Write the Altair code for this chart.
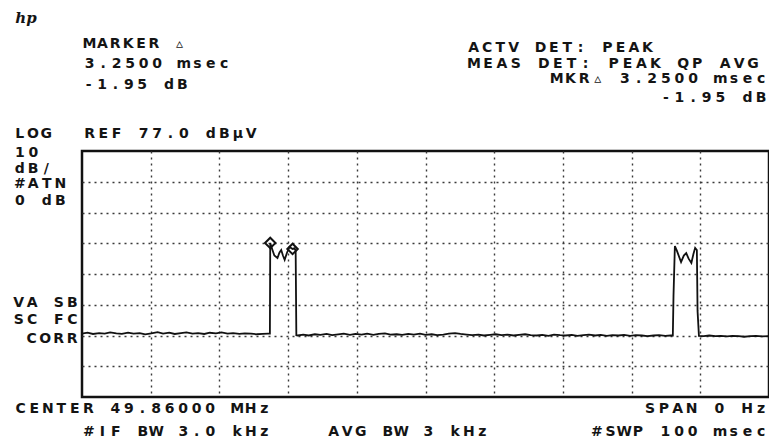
import altair as alt
import pandas as pd

# ---------------- data ----------------
# time axis 0..100 ms (SPAN 0 Hz, SWP 100 ms), level axis REF 77 dBuV, 10 dB/div
time_ms = [
    0.0, 0.8, 1.6, 2.5, 3.3, 4.1, 5.0, 5.8, 6.7, 7.5, 8.4, 9.2, 10.1, 11.0, 11.8,
    12.7, 13.5, 14.4, 15.2, 16.1, 16.9, 17.8, 18.6, 19.5, 20.3, 21.2, 22.0, 22.9,
    23.7, 24.6, 25.4, 26.3, 27.1, 27.35,
    27.4, 27.7, 28.0, 28.45, 28.75, 29.0, 29.25, 29.5, 29.85, 30.2, 30.65, 30.95, 31.1,
    31.2, 31.4, 32.2, 33.0, 33.9, 34.7, 35.6, 36.4, 37.3, 38.1, 39.0, 39.8, 40.7,
    41.5, 42.4, 43.2, 44.1, 44.9, 45.8, 46.6, 47.5, 48.3, 49.2, 50.0, 50.9, 51.7,
    52.6, 53.4, 54.3, 55.1, 56.0, 56.8, 57.7, 58.5, 59.4, 60.2, 61.1, 61.9, 62.8,
    63.6, 64.5, 65.3, 66.2, 67.0, 67.9, 68.7, 69.6, 70.4, 71.3, 72.1, 73.0, 73.8,
    74.7, 75.5, 76.4, 77.2, 78.1, 78.9, 79.8, 80.6, 81.5, 82.3, 83.2, 84.0, 84.9,
    85.7, 86.0,
    86.1, 86.3, 86.6, 87.2, 87.6, 87.95, 88.3, 88.7, 89.0, 89.25, 89.5, 89.6,
    89.8, 90.5, 91.3, 92.2, 93.0, 93.9, 94.7, 95.6, 96.4, 97.3, 98.1, 99.0, 100.0,
]
level_dbuv = [
    17.6, 17.9, 17.5, 17.8, 17.6, 18.0, 17.7, 17.5, 17.9, 17.6, 17.8, 17.4, 17.7, 18.1, 17.6,
    17.9, 17.5, 17.8, 18.0, 17.6, 17.8, 17.5, 17.9, 17.7, 18.0, 17.6, 17.8, 17.5,
    17.7, 17.6, 17.4, 17.5, 17.6, 17.6,
    47.1, 45.0, 43.0, 42.2, 44.0, 44.8, 43.0, 41.6, 44.0, 45.8, 45.15, 45.4, 44.5,
    17.1, 17.0, 17.3, 17.0, 17.4, 17.2, 17.5, 17.1, 17.4, 17.6, 17.2, 17.5, 17.3,
    17.6, 17.2, 17.5, 17.7, 17.3, 17.4, 17.2, 17.5, 17.3, 17.6, 17.2, 17.4, 17.1,
    17.3, 17.6, 17.8, 17.5, 17.3, 17.1, 17.3, 17.0, 17.2, 17.4, 17.1, 17.3, 17.0,
    17.2, 17.4, 17.1, 17.0, 17.2, 16.9, 17.3, 17.1, 17.0, 17.2, 16.9, 17.1, 17.3,
    17.0, 17.2, 16.9, 17.1, 17.0, 17.2, 16.9, 17.1, 17.0, 16.8, 17.0, 17.1, 16.9,
    17.0, 17.0,
    30.0, 46.1, 44.5, 40.9, 43.0, 43.8, 42.0, 40.6, 43.5, 45.5, 44.8, 25.0,
    16.9, 16.8, 17.0, 16.8, 16.9, 16.7, 16.9, 16.8, 16.6, 16.8, 16.9, 16.7, 16.8,
]

marker_time = [27.4, 30.65]
marker_level = [47.1, 45.15]

grid_time = [10, 20, 30, 40, 50, 60, 70, 80, 90]
grid_level = [7, 17, 27, 37, 47, 57, 67]

# screen annotation texts
label_texts = [
    "MARKER \u25b5", "3.2500 msec", "-1.95 dB",
    "ACTV DET: PEAK", "MEAS DET: PEAK QP AVG", "MKR\u25b5 3.2500 msec", "-1.95 dB",
    "LOG", "10", "dB/", "#ATN", "0 dB",
    "REF 77.0 dB\u00b5V",
    "VA SB", "SC FC", "CORR",
    "CENTER 49.86000 MHz", "#IF BW 3.0 kHz", "AVG BW 3 kHz",
    "SPAN 0 Hz", "#SWP 100 msec",
]

# ---------------- layout (page pixels) ----------------
PLOT_X0, PLOT_Y0 = 82, 151
PLOT_W, PLOT_H = 687, 246
# (left edge, right edge, vertical centre) for each text line
label_layout = [
    (83, 186, 43.5), (83, 231, 64), (82, 189, 85),
    (467, 654, 47.5), (467, 760, 64), (550, 768, 79), (659, 768, 97.5),
    (13, 53, 134), (13, 40, 152.5), (13, 53, 168.5), (13, 67, 183.5), (13, 67, 200.5),
    (83, 258, 134),
    (12, 79, 303), (12, 79, 320), (25, 79, 339),
    (14, 271, 409), (82, 271, 432), (327, 489, 432),
    (643, 768, 409), (590, 768, 432),
]

rows = []
for text, (xl, xr, yc) in zip(label_texts, label_layout):
    adv = (xr - xl) / len(text)
    for i, ch in enumerate(text):
        if ch == " ":
            continue
        rows.append({
            "px": xl + adv * (i + 0.5) - PLOT_X0,
            "py": yc - PLOT_Y0,
            "ch": ch,
        })
chars = pd.DataFrame(rows)

trace = pd.DataFrame({"t": time_ms, "lvl": level_dbuv})
markers = pd.DataFrame({"t": marker_time, "lvl": marker_level})

xscale = alt.Scale(domain=[0, 100], nice=False, zero=False)
yscale = alt.Scale(domain=[-3, 77], nice=False, zero=False)

grid_axis_x = alt.Axis(values=grid_time, labels=False, ticks=False, domain=False,
                       grid=True, gridDash=[2, 4], gridColor="#3a3a3a",
                       gridWidth=1.4, title=None)
grid_axis_y = alt.Axis(values=grid_level, labels=False, ticks=False, domain=False,
                       grid=True, gridDash=[2, 4], gridColor="#3a3a3a",
                       gridWidth=1.4, title=None)

line = alt.Chart(trace).mark_line(color="#111111", strokeWidth=1.8, interpolate="linear").encode(
    x=alt.X("t:Q", scale=xscale, axis=grid_axis_x),
    y=alt.Y("lvl:Q", scale=yscale, axis=grid_axis_y),
    order=alt.Order("t:Q"),
)

pts = alt.Chart(markers).mark_point(shape="diamond", filled=False, color="#111111",
                                    size=110, strokeWidth=2, opacity=1).encode(
    x=alt.X("t:Q", scale=xscale),
    y=alt.Y("lvl:Q", scale=yscale),
)

texts = alt.Chart(chars).mark_text(font="DejaVu Sans", fontWeight="bold", fontSize=14,
                                   align="center", baseline="middle", color="#141414").encode(
    x=alt.X("px:Q", scale=None, axis=None),
    y=alt.Y("py:Q", scale=None, axis=None),
    text="ch:N",
)

logo = alt.Chart(pd.DataFrame({"s": ["hp"]})).mark_text(
    font="DejaVu Serif", fontStyle="italic", fontWeight="bold", fontSize=15,
    align="center", baseline="middle", color="#141414",
).encode(
    x=alt.value(26 - PLOT_X0),
    y=alt.value(18 - PLOT_Y0),
    text="s:N",
)

main = alt.layer(line, pts).resolve_scale(x="shared", y="shared")

chart = alt.layer(main, texts, logo).resolve_scale(
    x="independent", y="independent"
).properties(
    width=PLOT_W,
    height=PLOT_H,
    padding={"left": 74, "top": 143, "right": 0, "bottom": 42},
    autosize="none",
    background="white",
).configure_view(
    stroke="#111111", strokeWidth=2.5
)

chart.save("out.html", embed_options={"renderer": "svg", "actions": False})
